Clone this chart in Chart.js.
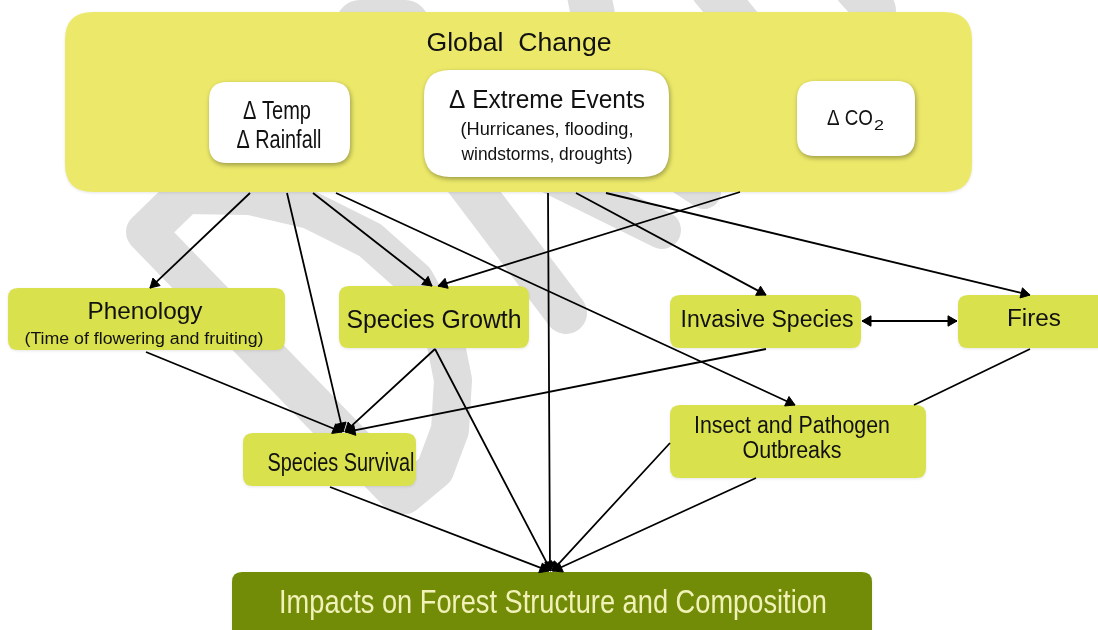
<!DOCTYPE html>
<html><head><meta charset="utf-8">
<script src="https://cdn.jsdelivr.net/npm/chart.js@4.4.0/dist/chart.umd.min.js"></script>
<style>html,body{margin:0;padding:0;background:#fff;overflow:hidden}#wrap{width:1098px;height:630px;position:relative}</style>
</head><body><div id="wrap"><canvas id="c" width="1098" height="630"></canvas></div>
<script>
// ---- Diagram data (diagram units: 0..1098 across, 0..630 down) ----
const nodeNames = ['Global Change','Temp/Rainfall','Extreme Events','CO2','Phenology','Species Growth','Invasive Species','Fires','Species Survival','Insect and Pathogen Outbreaks','Impacts'];
const nodeBoxes = [[65,12,972,192],[209,82,350,163],[424,70,669,177],[797,81,915,156],[8,288,285,350],[339,286,529,348],[670,295,861,348],[958,295,1110,348],[243,433,416,486],[670,405,926,478],[232,572,872,640]];
const nodeRadius = [28,18,26,18,10,10,10,10,10,10,10];
const nodeFill = ['#ece96a','#ffffff','#ffffff','#ffffff','#d9e14c','#d9e14c','#d9e14c','#d9e14c','#d9e14c','#d9e14c','#728c08'];
const nodeShadow = [false,true,true,true,false,false,false,false,false,false,false];

const labelText = ['Global  Change','Δ Temp','Δ Rainfall','Δ Extreme Events','(Hurricanes, flooding,','windstorms, droughts)','Δ CO','2','Phenology','(Time of flowering and fruiting)','Species Growth','Invasive Species','Fires','Species Survival','Insect and Pathogen','Outbreaks','Impacts on Forest Structure and Composition'];
const labelAt = [[519,51],[277,119],[279,148],[547,108],[547,135],[547,160],[850,125],[879,130],[145,319],[144,344],[434,328],[767,327],[1034,326],[341,471],[792,433],[792,458],[553,613]];
const labelSize = [26,25,25,25,19,19,22,14,24,16,25,23,23,25,23,23,33];
const labelWidth = [185,68,85,196,173,171,46,10,115,239,175,173,54,147,196,99,548];
const labelColor = ['#111','#111','#111','#111','#111','#111','#111','#111','#111','#111','#111','#111','#111','#111','#111','#111','#f2f2b8'];

const edgeFrom = [[250,193],[287,193],[313,193],[336,193],[740,192],[548,193],[576,193],[606,193],[862,321],[146,352],[435,349],[435,349],[766,349],[1030,349],[330,487],[670,443],[756,478]];
const edgeTo   = [[150,288],[343,432],[432,286],[795,405],[438,286],[550,571],[766,295],[1030,295],[957,321],[342,432],[345,432],[551,571],[346,432],[914,405],[549,571],[552,571],[553,571]];
const edgeHead = ['end','end','end','end','end','end','end','end','both','end','end','end','end','none','end','end','end'];

// faint background watermark strokes (decoration)
const markStrokes = [
  {pts:[[215,165],[146,232],[400,494]], w:40},
  {pts:[[185,195],[250,196],[310,210],[370,240],[415,280],[443,330],[453,380],[450,430],[435,470],[405,495]], w:38},
  {pts:[[360,24],[405,24]], w:48},
  {pts:[[420,120],[566,313]], w:42},
  {pts:[[520,160],[662,230]], w:38},
  {pts:[[640,150],[704,192]], w:34},
  {pts:[[588,-10],[598,40]], w:44},
  {pts:[[712,-10],[745,30]], w:42},
  {pts:[[855,-12],[875,10]], w:42}
];

const HEAD = 6;
function unit(a,b){const dx=b[0]-a[0],dy=b[1]-a[1];const L=Math.hypot(dx,dy);return [dx/L,dy/L];}
const datasets = edgeFrom.map((f,i)=>{
  const t=edgeTo[i], u=unit(f,t), h=edgeHead[i];
  const rot = Math.atan2(u[0],-u[1])*180/Math.PI;
  const pts=[{x:f[0],y:f[1]}], r=[0], rr=[0];
  if(h==='both'){pts.push({x:f[0]+u[0]*HEAD,y:f[1]+u[1]*HEAD}); r.push(HEAD); rr.push(rot+180);}
  if(h==='end'||h==='both'){pts.push({x:t[0]-u[0]*HEAD,y:t[1]-u[1]*HEAD}); r.push(HEAD); rr.push(rot);}
  pts.push({x:t[0],y:t[1]}); r.push(0); rr.push(0);
  return {data:pts, showLine:true, borderColor:'#000', borderWidth:1.8, pointRadius:r, pointHoverRadius:r,
    pointRotation:rr, pointStyle:'triangle', pointBackgroundColor:'#000', pointBorderColor:'#000', pointBorderWidth:1, clip:false};
});

function rr(ctx,x1,y1,x2,y2,r){
  ctx.beginPath();
  ctx.moveTo(x1+r,y1);ctx.lineTo(x2-r,y1);ctx.quadraticCurveTo(x2,y1,x2,y1+r);
  ctx.lineTo(x2,y2-r);ctx.quadraticCurveTo(x2,y2,x2-r,y2);
  ctx.lineTo(x1+r,y2);ctx.quadraticCurveTo(x1,y2,x1,y2-r);
  ctx.lineTo(x1,y1+r);ctx.quadraticCurveTo(x1,y1,x1+r,y1);ctx.closePath();
}

const diagram = {
  id:'diagram',
  beforeDatasetsDraw(chart){
    const {ctx, scales:{x, y}} = chart;
    const px=v=>x.getPixelForValue(v), py=v=>y.getPixelForValue(v);
    ctx.save();
    // watermark
    ctx.strokeStyle='#dedede'; ctx.lineCap='round'; ctx.lineJoin='round';
    markStrokes.forEach(s=>{
      ctx.lineWidth=s.w; ctx.beginPath();
      s.pts.forEach((p,i)=>{ if(i===0) ctx.moveTo(px(p[0]),py(p[1])); else ctx.lineTo(px(p[0]),py(p[1])); });
      ctx.stroke();
    });
    // boxes
    nodeBoxes.forEach((b,i)=>{
      ctx.save();
      if(nodeShadow[i]){ctx.shadowColor='rgba(0,0,0,0.35)';ctx.shadowBlur=5;ctx.shadowOffsetX=1;ctx.shadowOffsetY=2;}
      else {ctx.shadowColor='rgba(0,0,0,0.10)';ctx.shadowBlur=3;ctx.shadowOffsetX=0;ctx.shadowOffsetY=1;}
      rr(ctx,px(b[0]),py(b[1]),px(b[2]),py(b[3]),nodeRadius[i]);
      ctx.fillStyle=nodeFill[i]; ctx.fill();
      ctx.restore();
    });
    // labels
    labelText.forEach((t,i)=>{
      ctx.font = labelSize[i]+'px "Liberation Sans", Arial, sans-serif';
      const m = ctx.measureText(t).width;
      const wpx = px(labelAt[i][0]+labelWidth[i]/2)-px(labelAt[i][0]-labelWidth[i]/2);
      ctx.save();
      ctx.translate(px(labelAt[i][0]), py(labelAt[i][1]));
      ctx.scale(wpx/m,1);
      ctx.textAlign='center'; ctx.textBaseline='alphabetic';
      ctx.fillStyle=labelColor[i];
      ctx.fillText(t,0,0);
      ctx.restore();
    });
    ctx.restore();
  }
};

new Chart(document.getElementById('c'), {
  type:'scatter',
  data:{datasets},
  options:{
    responsive:false, animation:false, devicePixelRatio:1, events:[],
    layout:{padding:0},
    plugins:{legend:{display:false}, tooltip:{enabled:false}},
    scales:{
      x:{type:'linear', min:0, max:1098, display:false},
      y:{type:'linear', min:0, max:630, reverse:true, display:false}
    }
  },
  plugins:[diagram]
});
</script>
</body></html>
